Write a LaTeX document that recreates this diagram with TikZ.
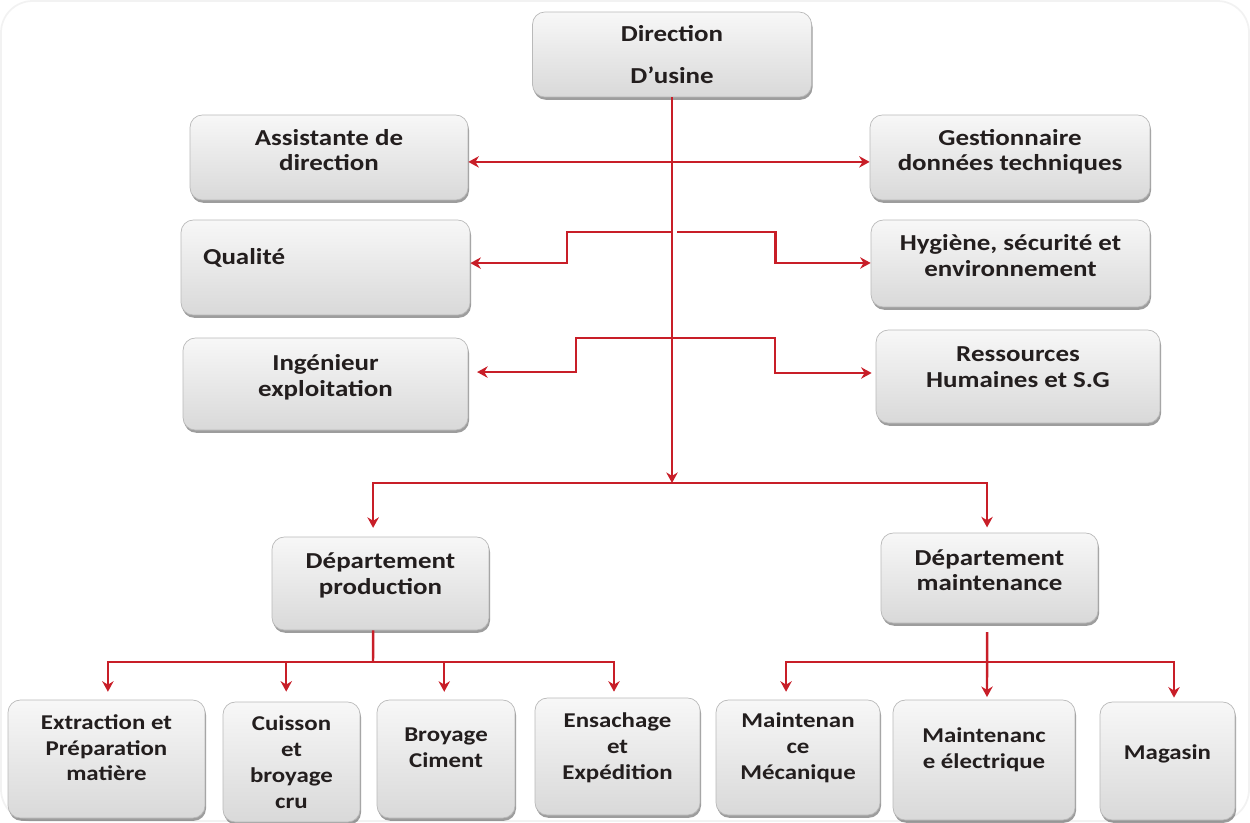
\documentclass[tikz,border=0pt]{standalone}
\usepackage{fontspec}
\setmainfont{Carlito}[FakeStretch=1.18]
\usetikzlibrary{arrows.meta, shadows}
\definecolor{orgred}{RGB}{200,30,40}
\definecolor{orgtext}{RGB}{35,30,30}

\begin{document}
\begin{tikzpicture}[
    x=0.02cm, y=-0.02cm,
    >={Stealth[length=6pt, width=6.5pt]},
    font=\bfseries\fontsize{13}{14.7}\selectfont,
    unit/.style={
        draw=gray!55, line width=0.4pt, top color=gray!6, bottom color=gray!30,
        rounded corners=7pt, text=orgtext, align=center, inner sep=2pt,
        drop shadow={shadow xshift=0.6pt, shadow yshift=-1.6pt, fill=black!70, opacity=0.55},
    },
    wh/.style 2 args={minimum width=#1cm, minimum height=#2cm},
    small/.style={font=\bfseries\fontsize{12}{14.7}\selectfont},
    lift/.style={execute at end node={\rule[-#1]{0pt}{#1}}},
    link/.style={draw=orgred, line width=1.4pt},
]
\useasboundingbox (0, 0) rectangle (1250, 822);
\draw[gray!10, line width=1pt, rounded corners=18pt] (1, 1) rectangle (1249, 821);

% ===== Top: direction and staff =====
\node[unit, wh={5.58}{1.70}] (dir) at (672, 54.5) {Direction\\[9.5pt]D’usine};

\node[unit, wh={5.56}{1.70}, lift=8.5pt] (assist) at (329, 157.5)  {Assistante de\\direction};
\node[unit, wh={5.60}{1.70}, lift=8.5pt] (gest)   at (1010, 157.5) {Gestionnaire\\données techniques};

\node[unit, wh={5.78}{1.90}, lift=12pt, align=left, text width=4.9cm] (qual) at (325.5, 267.5) {Qualité};
\node[unit, wh={5.58}{1.74}, lift=9.6pt] (hyg) at (1010.5, 263.5) {Hygiène, sécurité et\\environnement};

\node[unit, wh={5.70}{1.84}, lift=10pt] (ing) at (325.5, 384) {Ingénieur\\exploitation};
\node[unit, wh={5.68}{1.86}, lift=11pt] (rh)  at (1018, 376.5) {Ressources\\Humaines et S.G};

% ===== Middle: departments =====
\node[unit, wh={4.34}{1.86}, lift=11pt] (prod)  at (380.5, 583.5) {Département\\production};
\node[unit, wh={4.34}{1.80}, lift=9pt]  (maint) at (989.5, 578)   {Département\\maintenance};

% ===== Bottom: units =====
\node[unit, small, wh={3.94}{2.36}, lift=13pt] (extr) at (106.5, 759)  {Extraction et\\Préparation\\matière};
\node[unit, small, wh={2.74}{2.40}]            (cuis) at (291.5, 762)  {Cuisson\\et\\broyage\\cru};
\node[unit, small, wh={2.76}{2.36}, lift=13pt] (broy) at (446, 759)    {Broyage\\Ciment};
\node[unit, small, wh={3.30}{2.34}, lift=12pt] (ensa) at (617.5, 756.5) {Ensachage\\et\\Expédition};
\node[unit, small, wh={3.28}{2.30}, lift=13pt] (meca) at (798, 757.5)  {Maintenan\\ce\\Mécanique};
\node[unit, small, wh={3.64}{2.40}, lift=14pt] (elec) at (984, 760)    {Maintenanc\\e électrique};
\node[unit, small, wh={2.70}{2.36}, lift=10pt] (mag)  at (1167.5, 761) {Magasin};

% ===== Connectors =====
\coordinate (hub) at (672, 483);
\coordinate (jq)  at (672, 232);
\coordinate (ji)  at (672, 338);
\coordinate (pj)  at (373, 662);
\coordinate (mj)  at (987, 662);

% trunk
\draw[link, ->] (dir.south) -- (hub);

% staff
\draw[link, <->] ([yshift=-2.5pt]assist.east) -- ([yshift=-2.5pt]gest.west);
\draw[link, ->] (jq) -- ++(-105, 0) |- ([yshift=2.5pt]qual.east);
\draw[link, ->] ([xshift=3pt]jq) -- ++(98, 0) |- ([yshift=0.3pt]hyg.west);
\draw[link, ->] (ji) -- ++(-96, 0) |- ([xshift=5pt, yshift=6.8pt]ing.east);
\draw[link, ->] (ji) -- ++(103, 0) |- ([xshift=-2.3pt, yshift=2pt]rh.west);

% departments
\draw[link, <->, shorten <=5pt, shorten >=3pt] ([xshift=-4.2pt]prod.north) |- (hub) -| ([xshift=-1.4pt]maint.north);

% production units
\draw[link] ([xshift=-4.2pt]prod.south) -- (pj);
\draw[link, <->, shorten <=4.5pt, shorten >=3.4pt] ([xshift=0.8pt]extr.north) |- (pj) -| ([xshift=-2pt]ensa.north);
\draw[link, <-, shorten <=5.7pt] ([xshift=-3pt]cuis.north) |- (pj);
\draw[link, <-, shorten <=4.5pt] ([xshift=-1pt]broy.north) |- (pj);

% maintenance units
\draw[link, ->, shorten >=1.5pt] ([xshift=-1.4pt, yshift=-5pt]maint.south) -- ([xshift=1.7pt]elec.north);
\draw[link, <->, shorten <=4.5pt, shorten >=2.3pt] ([xshift=-6.8pt]meca.north) |- (mj) -| ([xshift=3.7pt]mag.north);

\end{tikzpicture}
\end{document}
